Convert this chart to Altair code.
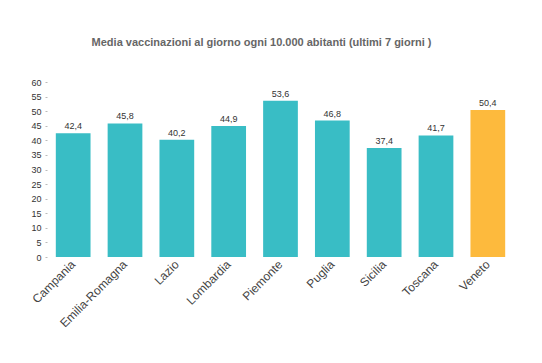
import altair as alt
import pandas as pd

regioni = ["Campania", "Emilia-Romagna", "Lazio", "Lombardia", "Piemonte",
           "Puglia", "Sicilia", "Toscana", "Veneto"]
valori = [42.4, 45.8, 40.2, 44.9, 53.6, 46.8, 37.4, 41.7, 50.4]
etichette = ["42,4", "45,8", "40,2", "44,9", "53,6", "46,8", "37,4", "41,7", "50,4"]
evidenza = ["no", "no", "no", "no", "no", "no", "no", "no", "si"]

df = pd.DataFrame({"regione": regioni, "valore": valori,
                   "etichetta": etichette, "evidenza": evidenza})

x = alt.X("regione:N", sort=regioni, title=None,
          scale=alt.Scale(paddingInner=0.33, paddingOuter=0.17),
          axis=alt.Axis(labelAngle=-45, labelAlign="right", labelBaseline="middle",
                        labelFontSize=12, labelColor="#444", labelFont="Liberation Sans",
                        ticks=False, domain=False, labelPadding=5))
y = alt.Y("valore:Q", title=None,
          scale=alt.Scale(domain=[0, 60], nice=False),
          axis=alt.Axis(values=list(range(0, 61, 5)), grid=False, domain=False,
                        tickSize=2, tickColor="#bbb", labelFontSize=9,
                        labelColor="#333", labelFont="Liberation Sans", labelPadding=4))

bars = alt.Chart(df).mark_bar().encode(
    x=x, y=y,
    color=alt.Color("evidenza:N", scale=alt.Scale(domain=["no", "si"],
                                                   range=["#39bdc5", "#fdba3d"]),
                    legend=None),
)
text = alt.Chart(df).mark_text(baseline="bottom", dy=-2, fontSize=9, color="#333",
                               font="Liberation Sans").encode(
    x=x, y=y, text="etichetta:N")

chart = (bars + text).properties(
    width=467, height=175,
    title=alt.TitleParams("Media vaccinazioni al giorno ogni 10.000 abitanti (ultimi 7 giorni )",
                          fontSize=11, fontWeight="bold", color="#666",
                          font="Liberation Sans", anchor="middle", offset=30, dx=-19),
    autosize=alt.AutoSizeParams(type="none"),
    padding={"left": 39, "top": 74, "right": 20, "bottom": 80},
).configure_view(stroke=None)

chart.save("out.html", embed_options={"renderer": "svg", "actions": False})
